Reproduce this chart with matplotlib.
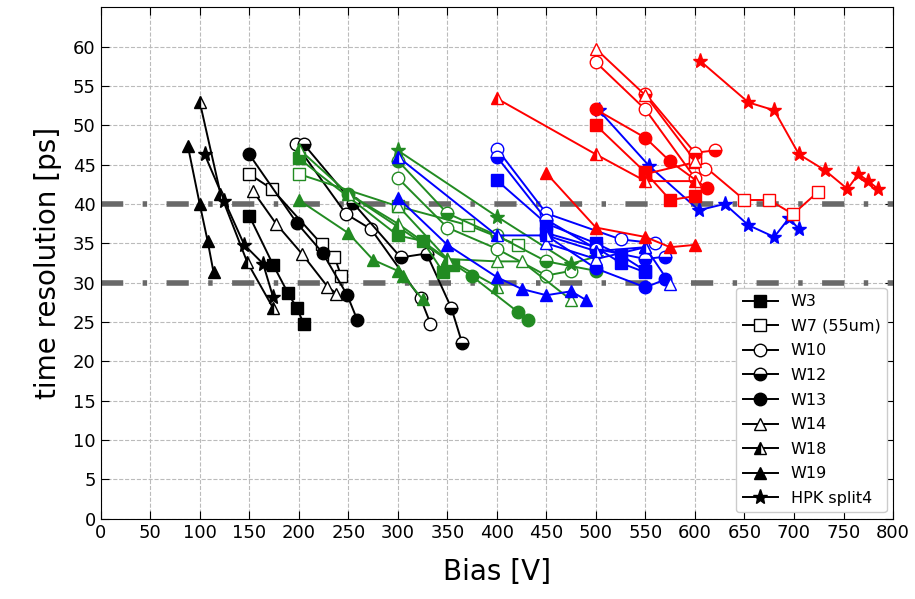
import matplotlib
matplotlib.use("Agg")
import matplotlib.pyplot as plt
from matplotlib.lines import Line2D

# (bias [V], time resolution [ps]), one pair per curve
# black
k_w3 = ([150, 174, 189, 198, 205], [38.5, 32.3, 28.7, 26.8, 24.8])
k_w7 = ([150, 173, 223, 236, 243], [43.8, 41.9, 34.9, 33.3, 30.8])
k_w10 = ([197, 248, 273, 323, 333], [47.6, 38.7, 36.8, 28.0, 24.8])
k_w12 = ([205, 255, 303, 329, 354, 365], [47.6, 40.1, 33.2, 33.7, 26.8, 22.3])
k_w13 = ([150, 198, 224, 249, 259], [46.3, 37.6, 33.8, 28.4, 25.3])
k_w14 = ([154, 177, 203, 229, 238], [41.6, 37.5, 33.7, 29.5, 28.6])
k_w18 = ([100, 121, 148, 174], [53.0, 41.3, 32.6, 26.8])
k_w19 = ([88, 100, 108, 114], [47.4, 40.0, 35.3, 31.3])
k_hpk = ([105, 125, 145, 164, 174], [46.3, 40.4, 34.8, 32.4, 28.2])

# green
g_w3 = ([200, 300, 325, 346, 356], [45.8, 36.0, 35.3, 31.3, 32.3])
g_w7 = ([200, 300, 371, 421], [43.8, 39.7, 37.3, 34.8])
g_w10 = ([300, 350, 400, 450, 475], [43.3, 37.0, 34.3, 30.9, 31.5])
g_w12 = ([300, 350, 400, 450, 500], [45.5, 38.8, 36.0, 32.7, 31.5])
g_w13 = ([250, 375, 421, 431], [41.3, 30.8, 26.3, 25.3])
g_w14 = ([300, 350, 400, 425, 475], [39.8, 33.0, 32.7, 32.7, 27.8])
g_w18 = ([200, 250, 300, 350, 400], [47.0, 41.3, 37.5, 33.0, 29.5])
g_w19 = ([200, 250, 275, 300, 305, 325], [40.5, 36.3, 32.9, 31.5, 30.9, 27.9])
g_hpk = ([300, 400, 475, 500], [46.8, 38.4, 32.4, 33.3])

# blue
b_w3 = ([400, 450, 500, 525, 550], [43.0, 37.5, 35.0, 33.5, 31.5])
b_w3b = ([450, 500, 525, 550], [36.3, 34.5, 32.5, 31.3])
b_w10 = ([400, 450, 525, 560], [47.0, 38.8, 35.5, 35.0])
b_w12 = ([400, 450, 500, 550, 570], [46.0, 38.0, 34.3, 33.0, 33.3])
b_w13 = ([450, 500, 550, 570], [36.0, 31.8, 29.4, 30.4])
b_w14 = ([450, 500, 550, 575], [35.0, 33.0, 34.5, 29.8])
b_w18 = ([300, 400, 450, 500, 550], [46.0, 36.0, 36.0, 34.0, 34.5])
b_w19 = ([300, 350, 400, 425, 450, 475, 490], [40.8, 34.8, 30.7, 29.2, 28.4, 28.9, 27.8])
b_hpk = ([503, 554, 604, 630, 654, 680, 695, 705], [51.9, 44.8, 39.2, 40.0, 37.3, 35.8, 38.2, 36.8])

# red
r_w3 = ([500, 550, 575, 600], [50.0, 44.0, 40.5, 41.0])
r_w3b = ([550, 600], [43.8, 45.3])
r_w7 = ([600, 650, 675, 699, 724], [45.8, 40.5, 40.5, 38.7, 41.5])
r_w10 = ([500, 550, 600, 610], [58.0, 52.0, 43.3, 44.5])
r_w12 = ([550, 600, 620], [54.0, 46.5, 46.8])
r_w13 = ([500, 550, 575, 612], [52.0, 48.4, 45.4, 42.0])
r_w14 = ([500, 550, 600], [59.7, 53.8, 45.5])
r_w18 = ([400, 500, 550, 600], [53.4, 46.3, 42.9, 42.9])
r_w19 = ([450, 500, 550, 575, 600], [43.9, 37.0, 35.8, 34.5, 34.8])
r_hpk = ([605, 654, 680, 705, 731, 754, 765, 775, 785], [58.2, 52.9, 51.9, 46.3, 44.3, 41.9, 43.8, 42.9, 41.9])

wafers = ["W3", "W7 (55um)", "W10", "W12", "W13", "W14", "W18", "W19", "HPK split4"]
marker = {"W3": ("s", "full"), "W7 (55um)": ("s", "none"), "W10": ("o", "none"),
          "W12": ("o", "bottom"), "W13": ("o", "full"), "W14": ("^", "none"),
          "W18": ("^", "left"), "W19": ("^", "full"), "HPK split4": ("*", "full")}

curves = [
    ("k", "W3", k_w3), ("k", "W7 (55um)", k_w7), ("k", "W10", k_w10), ("k", "W12", k_w12),
    ("k", "W13", k_w13), ("k", "W14", k_w14), ("k", "W18", k_w18), ("k", "W19", k_w19),
    ("k", "HPK split4", k_hpk),
    ("forestgreen", "W3", g_w3), ("forestgreen", "W7 (55um)", g_w7), ("forestgreen", "W10", g_w10),
    ("forestgreen", "W12", g_w12), ("forestgreen", "W13", g_w13), ("forestgreen", "W14", g_w14),
    ("forestgreen", "W18", g_w18), ("forestgreen", "W19", g_w19), ("forestgreen", "HPK split4", g_hpk),
    ("b", "W3", b_w3), ("b", "W3", b_w3b), ("b", "W10", b_w10), ("b", "W12", b_w12),
    ("b", "W13", b_w13), ("b", "W14", b_w14), ("b", "W18", b_w18), ("b", "W19", b_w19),
    ("b", "HPK split4", b_hpk),
    ("r", "W3", r_w3), ("r", "W3", r_w3b), ("r", "W7 (55um)", r_w7), ("r", "W10", r_w10),
    ("r", "W12", r_w12), ("r", "W13", r_w13), ("r", "W14", r_w14), ("r", "W18", r_w18),
    ("r", "W19", r_w19), ("r", "HPK split4", r_hpk),
]


def style(w, c):
    m, fs = marker[w]
    ms = 11 if m == "*" else 9
    if fs == "none":
        return dict(marker=m, ms=ms, mfc="white", mec=c, mew=1.0)
    return dict(marker=m, ms=ms, fillstyle=fs, mfc=c, mfcalt="white", mec=c, mew=1.0)


fig = plt.figure(figsize=(9.15, 5.99), dpi=100)
ax = fig.add_axes([0.110, 0.134, 0.866, 0.854])

for c, w, (v, t) in curves:
    ax.plot(v, t, color=c, lw=1.4, zorder=2, **style(w, c))

for y in [40, 30]:
    ax.axhline(y, color="dimgray", lw=4, ls=(0, (4, 3.5, 0.8, 3.5)), zorder=1.5)

ax.set_xlim(0, 800)
ax.set_ylim(0, 65)
ax.set_xticks(range(0, 801, 50))
ax.set_yticks(range(0, 61, 5))
ax.tick_params(direction="in", top=True, right=True, length=6, labelsize=13)
ax.grid(True, ls="--", color="#bbbbbb", lw=0.8)
ax.set_axisbelow(True)
ax.set_xlabel("Bias [V]", fontsize=20, labelpad=12)
ax.set_ylabel("time resolution [ps]", fontsize=20, labelpad=8)

handles = [Line2D([], [], color="k", lw=1.4, **style(w, "k")) for w in wafers]
ax.legend(handles, wafers, loc="lower right", fontsize=11.5, handlelength=2.2,
          borderaxespad=0.4, labelspacing=0.6, framealpha=1)

plt.savefig("out.png")
